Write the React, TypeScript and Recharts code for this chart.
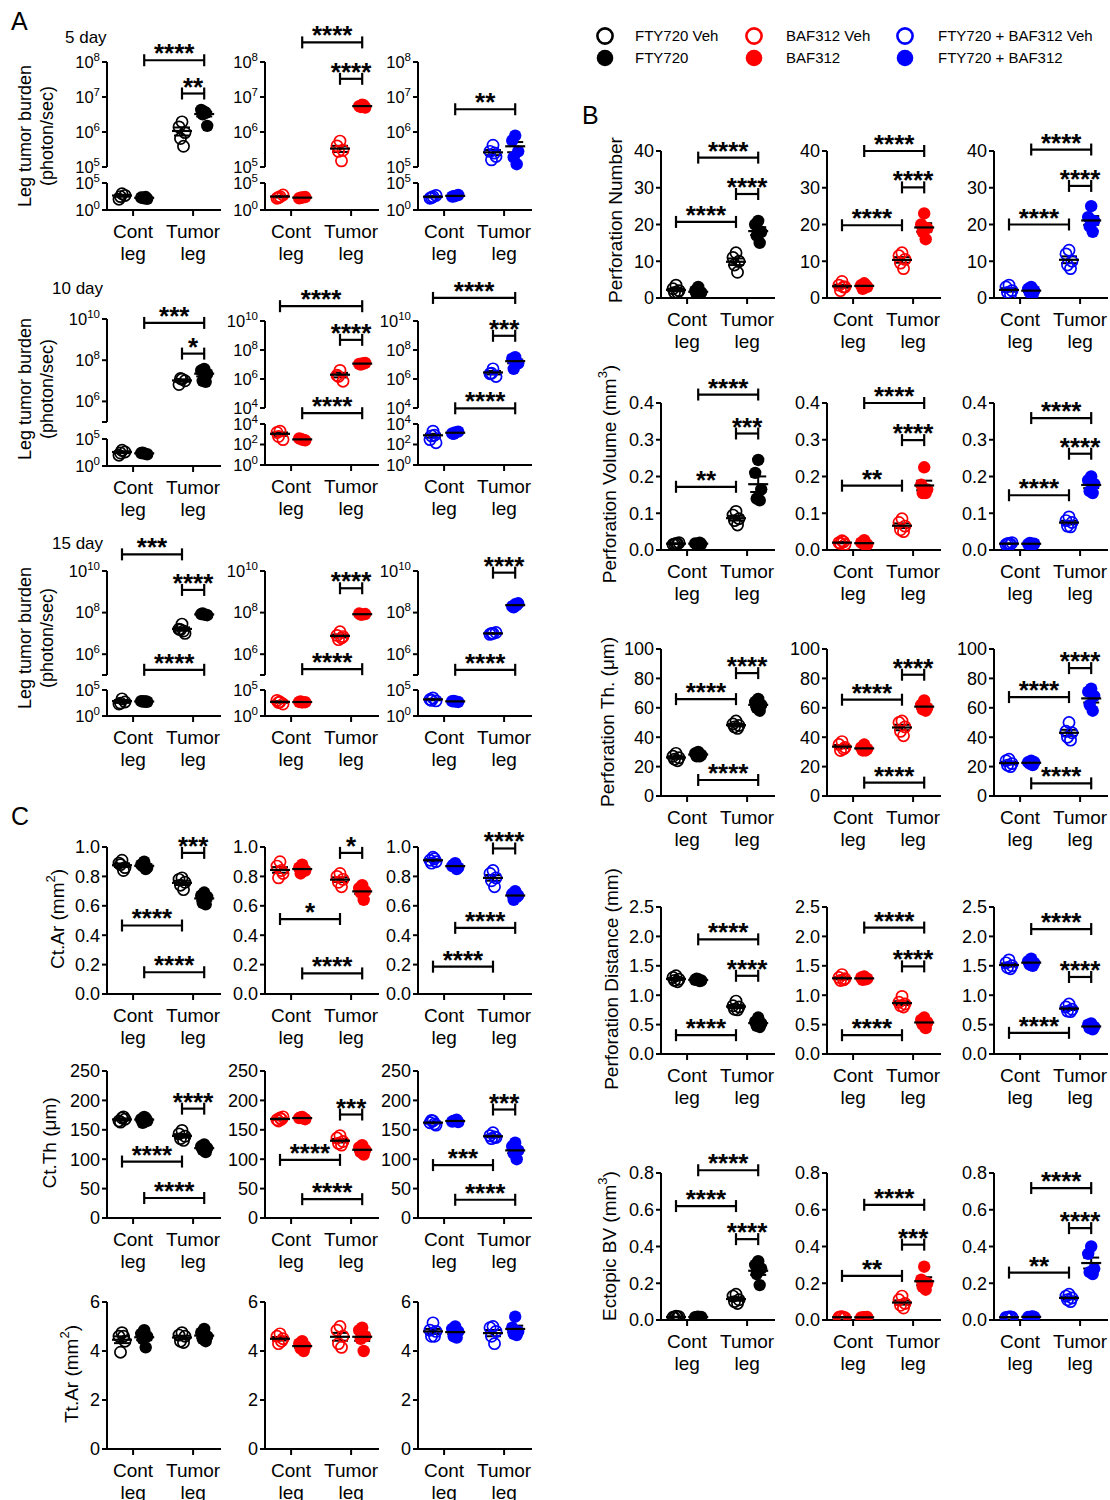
import React from 'react';
import { ScatterChart, Scatter, XAxis, YAxis, ReferenceLine, ErrorBar } from 'recharts';

// [from group, to group, level, stars]; groups: 0 Cont Veh, 1 Cont drug, 2 Tumor Veh, 3 Tumor drug
type Sig = [number, number, number, string];

const FONT = '"Liberation Sans", Arial, Helvetica, sans-serif';
const COLORS = ['#000000', '#ff0000', '#0000ff'];
const LEGS = ['Cont leg', 'Tumor leg'];
const LEGEND_ROWS = [
  ['FTY720 Veh', 'BAF312 Veh', 'FTY720 + BAF312 Veh'],
  ['FTY720', 'BAF312', 'FTY720 + BAF312'],
];
const DAYS = ['5 day', '10 day', '15 day'];

// ---- A: leg tumor burden (photon/sec) ----
const A5_FTY = [[1000, 100, 500, 300], [150, 200, 120, 180, 250], [1.95e6, 1.4e6, 9.6e5, 6.5e5, 3.9e5], [3.8e6, 4.3e6, 1.5e6, 3.2e6, 3.5e6]];
const A5_BAF = [[300, 150, 600, 200], [200, 150, 250, 180], [5.5e5, 4e5, 3e5, 2.8e5, 1.5e5], [6e6, 5.5e6, 5e6, 5.2e6, 5.8e6]];
const A5_COMBO = [[300, 150, 500, 200], [400, 300, 600, 350], [4.2e5, 2.8e5, 2e5, 1.6e5, 2.5e5], [7.9e5, 5.7e5, 2.8e5, 1.9e5, 1.2e5]];
const A10_FTY = [[800, 100, 400, 250], [200, 250, 150, 300], [1.2e7, 6.6e6, 1e7, 1.3e7], [3.8e7, 3.2e7, 2.2e7, 1e7, 9e6]];
const A10_BAF = [[2e3, 1.5e3, 300, 600], [300, 400, 250, 350, 280], [3.9e6, 1.8e6, 7e5, 1.5e6], [1.2e7, 1.1e7, 1.3e7, 1e7, 1.15e7]];
const A10_COMBO = [[2e3, 300, 150, 700, 800], [1.5e3, 1.2e3, 1.8e3, 1.1e3], [5e6, 2.3e6, 1.5e6, 2.5e6], [3.2e7, 2.5e7, 1.2e7, 5e6, 1.1e7]];
const A15_FTY = [[2e3, 200, 500, 300], [600, 700, 550, 650, 600], [2.8e7, 1.6e7, 1e7, 1.5e7, 1.3e7], [8e7, 8.5e7, 7.5e7, 9e7, 8e7]];
const A15_BAF = [[500, 1e3, 200, 400], [400, 500, 450, 600], [1.2e7, 8e6, 7e6, 5e6, 6e6], [8e7, 9e7, 8.5e7, 8e7]];
const A15_COMBO = [[3e3, 1.5e3, 800, 1e3], [600, 700, 500, 800], [1e7, 9e6, 1.1e7, 1e7], [2.5e8, 2e8, 2.8e8, 1.8e8, 2.3e8]];
// levels are log10 on the upper axis segment
const A5_FTY_SIG: Sig[] = [[1, 3, 8.05, '****'], [2, 3, 7.1, '**']];
const A5_BAF_SIG: Sig[] = [[1, 3, 8.56, '****'], [2, 3, 7.52, '****']];
const A5_COMBO_SIG: Sig[] = [[1, 3, 6.65, '**']];
const A10_FTY_SIG: Sig[] = [[1, 3, 9.81, '***'], [2, 3, 8.32, '*']];
const A10_BAF_SIG: Sig[] = [[0, 3, 11.02, '****'], [2, 3, 8.7, '****'], [1, 3, 3.64, '****']];
const A10_COMBO_SIG: Sig[] = [[0, 3, 11.59, '****'], [2, 3, 8.98, '***'], [1, 3, 3.98, '****']];
const A15_FTY_SIG: Sig[] = [[0, 2, 10.8, '***'], [2, 3, 9.09, '****'], [1, 3, 5.25, '****']];
const A15_BAF_SIG: Sig[] = [[2, 3, 9.17, '****'], [1, 3, 5.28, '****']];
const A15_COMBO_SIG: Sig[] = [[2, 3, 9.92, '****'], [1, 3, 5.25, '****']];

// ---- B ----
const B_NUM_FTY = [[3.5, 2.5, 2.0, 1.5, 1.5], [3, 2, 1.5, 1, 1], [12.3, 11, 10, 9, 7], [21, 20, 18, 17, 15]];
const B_NUM_BAF = [[4.5, 3.5, 3, 2, 3], [4, 3.5, 3, 2.5, 3.5], [12.3, 11.5, 10.5, 9.5, 8], [23, 20, 19, 18, 16]];
const B_NUM_COMBO = [[3.5, 3, 2, 1.5, 1], [3, 2.5, 2, 1.5, 1], [13, 12, 10, 9, 8], [25, 22, 21, 19.5, 18]];
const B_VOL_FTY = [[0.018, 0.015, 0.02, 0.016, 0.017], [0.017, 0.018, 0.016, 0.015, 0.02], [0.105, 0.095, 0.085, 0.08, 0.068], [0.245, 0.21, 0.165, 0.14, 0.135]];
const B_VOL_BAF = [[0.025, 0.02, 0.015, 0.018, 0.022], [0.027, 0.02, 0.015, 0.018, 0.013], [0.085, 0.075, 0.065, 0.055, 0.05], [0.225, 0.178, 0.165, 0.155, 0.155]];
const B_VOL_COMBO = [[0.018, 0.015, 0.02, 0.017, 0.016], [0.018, 0.016, 0.017, 0.019, 0.015], [0.09, 0.08, 0.075, 0.065, 0.063], [0.2, 0.19, 0.18, 0.16, 0.155]];
const B_TH_FTY = [[29, 27, 26, 25, 24], [30, 29, 28, 27, 27], [51, 49, 48, 47, 46], [66, 64, 62, 60, 58]];
const B_TH_BAF = [[37, 35, 33, 31, 32], [35, 33, 32, 31, 31], [51, 50, 47, 44, 41], [65, 62, 60, 59, 58]];
const B_TH_COMBO = [[25, 24, 22, 21, 20], [24, 23, 23, 22, 21], [50, 44, 43, 40, 38], [73, 71, 68, 62, 58]];
const B_DIST_FTY = [[1.33, 1.3, 1.27, 1.25, 1.23], [1.27, 1.26, 1.25, 1.28, 1.24], [0.9, 0.82, 0.8, 0.76, 0.75], [0.62, 0.55, 0.52, 0.48, 0.46]];
const B_DIST_BAF = [[1.35, 1.3, 1.28, 1.25, 1.26], [1.32, 1.3, 1.28, 1.26, 1.27], [0.98, 0.88, 0.85, 0.82, 0.8], [0.62, 0.58, 0.54, 0.5, 0.44]];
const B_DIST_COMBO = [[1.6, 1.55, 1.5, 1.47, 1.45], [1.62, 1.58, 1.55, 1.52, 1.5], [0.85, 0.8, 0.76, 0.73, 0.72], [0.52, 0.5, 0.46, 0.44, 0.42]];
const B_BV_FTY = [[0.02, 0.015, 0.018, 0.012, 0.016], [0.018, 0.015, 0.017, 0.016, 0.014], [0.14, 0.13, 0.11, 0.1, 0.09], [0.32, 0.3, 0.28, 0.25, 0.19]];
const B_BV_BAF = [[0.018, 0.015, 0.012, 0.016, 0.014], [0.015, 0.014, 0.016, 0.013, 0.015], [0.13, 0.11, 0.09, 0.08, 0.065], [0.29, 0.22, 0.2, 0.18, 0.165]];
const B_BV_COMBO = [[0.016, 0.014, 0.015, 0.013, 0.017], [0.018, 0.016, 0.017, 0.015, 0.019], [0.14, 0.13, 0.12, 0.11, 0.1], [0.4, 0.36, 0.28, 0.26, 0.25]];
const B_NUM_FTY_SIG: Sig[] = [[1, 3, 38.2, '****'], [2, 3, 28.3, '****'], [0, 2, 20.7, '****']];
const B_NUM_BAF_SIG: Sig[] = [[1, 3, 40, '****'], [2, 3, 30.1, '****'], [0, 2, 19.8, '****']];
const B_NUM_COMBO_SIG: Sig[] = [[1, 3, 40.4, '****'], [2, 3, 30.5, '****'], [0, 2, 20, '****']];
const B_VOL_FTY_SIG: Sig[] = [[1, 3, 0.423, '****'], [2, 3, 0.317, '***'], [0, 2, 0.172, '**']];
const B_VOL_BAF_SIG: Sig[] = [[1, 3, 0.4, '****'], [2, 3, 0.299, '****'], [0, 2, 0.175, '**']];
const B_VOL_COMBO_SIG: Sig[] = [[1, 3, 0.359, '****'], [2, 3, 0.262, '****'], [0, 2, 0.149, '****']];
const B_TH_FTY_SIG: Sig[] = [[2, 3, 83.6, '****'], [0, 2, 65.9, '****'], [1, 3, 10.9, '****']];
const B_TH_BAF_SIG: Sig[] = [[2, 3, 82.5, '****'], [0, 2, 65.5, '****'], [1, 3, 9.1, '****']];
const B_TH_COMBO_SIG: Sig[] = [[2, 3, 87, '****'], [0, 2, 67.3, '****'], [1, 3, 8.6, '****']];
const B_DIST_FTY_SIG: Sig[] = [[1, 3, 1.95, '****'], [2, 3, 1.33, '****'], [0, 2, 0.32, '****']];
const B_DIST_BAF_SIG: Sig[] = [[1, 3, 2.15, '****'], [2, 3, 1.49, '****'], [0, 2, 0.32, '****']];
const B_DIST_COMBO_SIG: Sig[] = [[1, 3, 2.125, '****'], [2, 3, 1.31, '****'], [0, 2, 0.36, '****']];
const B_BV_FTY_SIG: Sig[] = [[1, 3, 0.815, '****'], [0, 2, 0.62, '****'], [2, 3, 0.44, '****']];
const B_BV_BAF_SIG: Sig[] = [[1, 3, 0.627, '****'], [2, 3, 0.41, '***'], [0, 2, 0.24, '**']];
const B_BV_COMBO_SIG: Sig[] = [[1, 3, 0.718, '****'], [2, 3, 0.5, '****'], [0, 2, 0.258, '**']];

// ---- C ----
const C_AR_FTY = [[0.91, 0.89, 0.86, 0.88, 0.84], [0.9, 0.88, 0.86, 0.87, 0.85], [0.79, 0.78, 0.76, 0.74, 0.71], [0.69, 0.67, 0.66, 0.62, 0.61]];
const C_AR_BAF = [[0.9, 0.87, 0.82, 0.79, 0.84], [0.88, 0.86, 0.84, 0.82, 0.85], [0.82, 0.8, 0.78, 0.76, 0.73], [0.74, 0.72, 0.7, 0.69, 0.64]];
const C_AR_COMBO = [[0.93, 0.91, 0.9, 0.89, 0.92], [0.89, 0.87, 0.86, 0.88, 0.85], [0.84, 0.82, 0.79, 0.77, 0.73], [0.7, 0.68, 0.67, 0.64, 0.66]];
const C_TH_FTY = [[170, 165, 168, 163, 172], [172, 168, 165, 162, 170], [149, 143, 139, 135, 132], [125, 122, 119, 116, 112]];
const C_TH_BAF = [[170, 167, 172, 165, 168], [172, 170, 168, 171, 169], [140, 136, 130, 127, 124], [124, 120, 116, 112, 108]];
const C_TH_COMBO = [[165, 162, 158, 166, 160], [166, 164, 163, 165, 167], [145, 140, 137, 135, 138], [128, 122, 115, 110, 100]];
const C_TT_FTY = [[4.75, 4.6, 4.4, 3.95, 4.6], [4.85, 4.7, 4.6, 4.5, 4.15], [4.75, 4.65, 4.6, 4.4, 4.35], [4.9, 4.75, 4.6, 4.5, 4.4]];
const C_TT_BAF = [[4.7, 4.6, 4.5, 4.3, 4.4], [4.4, 4.3, 4.2, 4.1, 4.0], [5.0, 4.85, 4.6, 4.3, 4.15], [4.95, 4.85, 4.6, 4.5, 4.0]];
const C_TT_COMBO = [[5.15, 4.85, 4.8, 4.6, 4.6], [5.0, 4.9, 4.8, 4.6, 4.55], [5.0, 4.95, 4.8, 4.6, 4.3], [5.4, 4.95, 4.8, 4.7, 4.65]];
const C_AR_FTY_SIG: Sig[] = [[2, 3, 0.96, '***'], [0, 2, 0.466, '****'], [1, 3, 0.148, '****']];
const C_AR_BAF_SIG: Sig[] = [[2, 3, 0.96, '*'], [0, 2, 0.51, '*'], [1, 3, 0.14, '****']];
const C_AR_COMBO_SIG: Sig[] = [[2, 3, 0.99, '****'], [1, 3, 0.45, '****'], [0, 2, 0.186, '****']];
const C_TH_FTY_SIG: Sig[] = [[2, 3, 186, '****'], [0, 2, 96, '****'], [1, 3, 34, '****']];
const C_TH_BAF_SIG: Sig[] = [[2, 3, 176, '***'], [0, 2, 98.8, '****'], [1, 3, 32, '****']];
const C_TH_COMBO_SIG: Sig[] = [[2, 3, 184.5, '***'], [0, 2, 90, '***'], [1, 3, 31, '****']];

// ---- layout ----
const PLOT_W = 114;
const Y_W = 70;
const TOP_PAD = 60;
const X_H = 62;
const RIGHT_PAD = 24;
const X_DOMAIN: [number, number] = [0.13, 3.93];
const GROUP_X = [0.63, 1.37, 2.63, 3.37];
const SPREAD = [0, -0.1, 0.1, -0.05, 0.05];
const COLS_AC = [107, 265, 418];
const COLS_B = [661, 827, 994];
const CAP = 6;
const AXIS = { stroke: '#000', strokeWidth: 2 };

type LogCfg = { lo: [number, number]; hi: [number, number]; loPx: number; gapPx: number; hiPx: number; loTicks: number[]; hiTicks: number[]; blank: number[] };
type LinCfg = { domain: [number, number]; ticks: number[]; digits: number };

const LOG_5: LogCfg = { lo: [0, 5], hi: [5, 8], loPx: 27, gapPx: 16, hiPx: 105, loTicks: [0, 5], hiTicks: [5, 6, 7, 8], blank: [] };
const LOG_10A: LogCfg = { lo: [0, 5], hi: [5, 10], loPx: 27, gapPx: 17, hiPx: 103, loTicks: [0, 5], hiTicks: [5, 6, 8, 10], blank: [5] };
const LOG_10B: LogCfg = { lo: [0, 4], hi: [4, 10], loPx: 41, gapPx: 16, hiPx: 87, loTicks: [0, 2, 4], hiTicks: [4, 6, 8, 10], blank: [] };
const LOG_15: LogCfg = { lo: [0, 5], hi: [5, 10], loPx: 26, gapPx: 15, hiPx: 104, loTicks: [0, 5], hiTicks: [5, 6, 8, 10], blank: [5] };

interface PanelProps { left: number; top: number; h: number; groups: number[][]; color: string; sigs: Sig[]; lin?: LinCfg; log?: LogCfg }

const mean = (a: number[]) => a.reduce((s, v) => s + v, 0) / a.length;
const sem = (a: number[]) => {
  const m = mean(a);
  return Math.sqrt(a.reduce((s, v) => s + (v - m) ** 2, 0) / (a.length - 1)) / Math.sqrt(a.length);
};

const meanShape = (p: any) => (
  <line x1={p.cx - 10} x2={p.cx + 10} y1={p.cy} y2={p.cy} stroke="#000" strokeWidth={2.2} />
);

const renderXTick = (p: any) => {
  const [w1, w2] = (p.payload.value < 2 ? LEGS[0] : LEGS[1]).split(' ');
  return (
    <text x={p.x} y={p.y} textAnchor="middle" fontSize={19} fill="#000">
      <tspan x={p.x} dy={20}>{w1}</tspan>
      <tspan x={p.x} dy={22}>{w2}</tspan>
    </text>
  );
};

function Panel({ left, top, h, groups, color, sigs, lin, log }: PanelProps) {
  const loPos = (d: number) => (log ? ((d - log.lo[0]) / (log.lo[1] - log.lo[0])) * log.loPx : d);
  const hiPos = (d: number) => (log ? log.loPx + log.gapPx + ((d - log.hi[0]) / (log.hi[1] - log.hi[0])) * log.hiPx : d);
  const toY = (v: number) => {
    if (!log) return v;
    const d = Math.log10(v);
    return d < log.hi[0] ? loPos(d) : hiPos(d);
  };
  const domain: [number, number] = log ? [0, log.loPx + log.gapPx + log.hiPx] : lin!.domain;
  const unit = (domain[1] - domain[0]) / h;
  const ticks = log
    ? [
        ...log.loTicks.map((d) => ({ t: loPos(d), label: String(d) })),
        ...log.hiTicks.map((d) => ({ t: hiPos(d), label: log.blank.includes(d) ? '' : String(d) })),
      ]
    : lin!.ticks.map((v) => ({ t: v, label: v.toFixed(lin!.digits) }));

  const renderYTick = (p: any) => {
    const k = ticks.find((q) => Math.abs(q.t - p.payload.value) < 1e-6);
    if (!k || !k.label) return <g />;
    if (log) {
      return (
        <text x={p.x} y={p.y} dy="0.35em" textAnchor="end" fontSize={16.5} fill="#000">
          10<tspan dy={-7} fontSize={11.5}>{k.label}</tspan>
        </text>
      );
    }
    return (
      <text x={p.x} y={p.y} dy="0.35em" textAnchor="end" fontSize={18} fill="#000">{k.label}</text>
    );
  };

  const pts = groups.map((g, gi) => g.map((v, i) => ({ x: GROUP_X[gi] + SPREAD[i % SPREAD.length], y: toY(v) })));
  const means = groups.map((g, gi) => {
    const m = mean(g);
    const s = sem(g);
    const tm = toY(m);
    const lo = m - s > 0 ? toY(m - s) : domain[0];
    return { x: GROUP_X[gi], y: tm, err: [tm - lo, toY(m + s) - tm] };
  });

  const openShape = (p: any) => <circle cx={p.cx} cy={p.cy} r={5.6} fill="none" stroke={color} strokeWidth={1.7} />;
  const fillShape = (p: any) => <circle cx={p.cx} cy={p.cy} r={6.2} fill={color} />;

  return (
    <div style={{ position: 'absolute', left: left - Y_W, top: top - TOP_PAD }}>
      <ScatterChart
        width={Y_W + PLOT_W + RIGHT_PAD}
        height={TOP_PAD + h + X_H}
        margin={{ top: TOP_PAD, right: RIGHT_PAD, bottom: 0, left: 0 }}
      >
        <XAxis type="number" dataKey="x" domain={X_DOMAIN} ticks={[1, 3]} allowDataOverflow height={X_H}
          axisLine={AXIS} tickLine={AXIS} tickSize={6} tickMargin={2} tick={renderXTick} interval={0} />
        <YAxis type="number" dataKey="y" domain={domain} ticks={ticks.map((k) => k.t)} allowDataOverflow width={Y_W}
          axisLine={log ? false : AXIS} tickLine={AXIS} tickSize={5} tickMargin={2} tick={renderYTick} interval={0} />
        {log && (
          <ReferenceLine segment={[{ x: X_DOMAIN[0], y: 0 }, { x: X_DOMAIN[0], y: log.loPx }]} stroke="#000" strokeWidth={2} ifOverflow="visible" />
        )}
        {log && (
          <ReferenceLine segment={[{ x: X_DOMAIN[0], y: log.loPx + log.gapPx }, { x: X_DOMAIN[0], y: domain[1] }]} stroke="#000" strokeWidth={2} ifOverflow="visible" />
        )}
        {pts.map((d, gi) => (
          <Scatter key={gi} data={d} shape={gi % 2 === 0 ? openShape : fillShape} isAnimationActive={false} />
        ))}
        <Scatter data={means} shape={meanShape} isAnimationActive={false}>
          <ErrorBar dataKey="err" direction="y" width={8} stroke="#000" strokeWidth={2} isAnimationActive={false} />
        </Scatter>
        {sigs.map(([a, b, lvl, stars], si) => {
          const y = log ? hiPos(lvl) : lvl;
          const x1 = GROUP_X[a];
          const x2 = GROUP_X[b];
          const c = CAP * unit;
          return (
            <React.Fragment key={si}>
              <ReferenceLine segment={[{ x: x1, y }, { x: x2, y }]} stroke="#000" strokeWidth={2.2} ifOverflow="visible"
                label={{ value: stars, position: 'top', offset: -2, fill: '#000', fontSize: 26, fontWeight: 700 }} />
              <ReferenceLine segment={[{ x: x1, y: y - c }, { x: x1, y: y + c }]} stroke="#000" strokeWidth={2.2} ifOverflow="visible" />
              <ReferenceLine segment={[{ x: x2, y: y - c }, { x: x2, y: y + c }]} stroke="#000" strokeWidth={2.2} ifOverflow="visible" />
            </React.Fragment>
          );
        })}
      </ScatterChart>
    </div>
  );
}

const A_ROWS = [
  { tops: [62, 62, 62], logs: [LOG_5, LOG_5, LOG_5], data: [A5_FTY, A5_BAF, A5_COMBO], sigs: [A5_FTY_SIG, A5_BAF_SIG, A5_COMBO_SIG] },
  { tops: [319, 321, 321], logs: [LOG_10A, LOG_10B, LOG_10B], data: [A10_FTY, A10_BAF, A10_COMBO], sigs: [A10_FTY_SIG, A10_BAF_SIG, A10_COMBO_SIG] },
  { tops: [571, 571, 571], logs: [LOG_15, LOG_15, LOG_15], data: [A15_FTY, A15_BAF, A15_COMBO], sigs: [A15_FTY_SIG, A15_BAF_SIG, A15_COMBO_SIG] },
];

const B_ROWS = [
  { top: 151, lin: { domain: [0, 40], ticks: [0, 10, 20, 30, 40], digits: 0 } as LinCfg, data: [B_NUM_FTY, B_NUM_BAF, B_NUM_COMBO], sigs: [B_NUM_FTY_SIG, B_NUM_BAF_SIG, B_NUM_COMBO_SIG] },
  { top: 403, lin: { domain: [0, 0.4], ticks: [0, 0.1, 0.2, 0.3, 0.4], digits: 1 } as LinCfg, data: [B_VOL_FTY, B_VOL_BAF, B_VOL_COMBO], sigs: [B_VOL_FTY_SIG, B_VOL_BAF_SIG, B_VOL_COMBO_SIG] },
  { top: 649, lin: { domain: [0, 100], ticks: [0, 20, 40, 60, 80, 100], digits: 0 } as LinCfg, data: [B_TH_FTY, B_TH_BAF, B_TH_COMBO], sigs: [B_TH_FTY_SIG, B_TH_BAF_SIG, B_TH_COMBO_SIG] },
  { top: 907, lin: { domain: [0, 2.5], ticks: [0, 0.5, 1, 1.5, 2, 2.5], digits: 1 } as LinCfg, data: [B_DIST_FTY, B_DIST_BAF, B_DIST_COMBO], sigs: [B_DIST_FTY_SIG, B_DIST_BAF_SIG, B_DIST_COMBO_SIG] },
  { top: 1173, lin: { domain: [0, 0.8], ticks: [0, 0.2, 0.4, 0.6, 0.8], digits: 1 } as LinCfg, data: [B_BV_FTY, B_BV_BAF, B_BV_COMBO], sigs: [B_BV_FTY_SIG, B_BV_BAF_SIG, B_BV_COMBO_SIG] },
];

const C_ROWS = [
  { top: 847, lin: { domain: [0, 1], ticks: [0, 0.2, 0.4, 0.6, 0.8, 1], digits: 1 } as LinCfg, data: [C_AR_FTY, C_AR_BAF, C_AR_COMBO], sigs: [C_AR_FTY_SIG, C_AR_BAF_SIG, C_AR_COMBO_SIG] },
  { top: 1071, lin: { domain: [0, 250], ticks: [0, 50, 100, 150, 200, 250], digits: 0 } as LinCfg, data: [C_TH_FTY, C_TH_BAF, C_TH_COMBO], sigs: [C_TH_FTY_SIG, C_TH_BAF_SIG, C_TH_COMBO_SIG] },
  { top: 1302, lin: { domain: [0, 6], ticks: [0, 2, 4, 6], digits: 0 } as LinCfg, data: [C_TT_FTY, C_TT_BAF, C_TT_COMBO], sigs: [[], [], []] as Sig[][] },
];

const VText = ({ x, y, size = 19, children }: { x: number; y: number; size?: number; children: React.ReactNode }) => (
  <text transform={`translate(${x},${y}) rotate(-90)`} textAnchor="middle" dominantBaseline="central" fontSize={size} fill="#000">
    {children}
  </text>
);

const Sup = ({ c }: { c: string }) => (
  <>
    <tspan dy={-7} fontSize={13}>{c}</tspan>
    <tspan dy={7}>)</tspan>
  </>
);

function Overlay() {
  const legendX = [605, 754, 905];
  const legendTextX = [635, 786, 938];
  return (
    <svg width={1110} height={1500} style={{ position: 'absolute', left: 0, top: 0 }}>
      <text x={11} y={30} fontSize={25} fill="#000">A</text>
      <text x={582} y={124} fontSize={25} fill="#000">B</text>
      <text x={11} y={825} fontSize={25} fill="#000">C</text>
      <text x={65} y={43} fontSize={17} fill="#000">{DAYS[0]}</text>
      <text x={52} y={294} fontSize={17} fill="#000">{DAYS[1]}</text>
      <text x={52} y={549} fontSize={17} fill="#000">{DAYS[2]}</text>
      {[136, 389, 638].map((cy) => (
        <g key={cy}>
          <VText x={25} y={cy} size={18}>Leg tumor burden</VText>
          <VText x={47} y={cy} size={18}>(photon/sec)</VText>
        </g>
      ))}
      <VText x={615} y={220}>Perforation Number</VText>
      <VText x={609} y={474}>Perforation Volume (mm<Sup c="3" /></VText>
      <VText x={607} y={722}>Perforation Th. (μm)</VText>
      <VText x={611} y={979}>Perforation Distance (mm)</VText>
      <VText x={609} y={1246}>Ectopic BV (mm<Sup c="3" /></VText>
      <VText x={57} y={919}>Ct.Ar (mm<Sup c="2" /></VText>
      <VText x={49} y={1143}>Ct.Th (μm)</VText>
      <VText x={71} y={1374}>Tt.Ar (mm<Sup c="2" /></VText>
      {COLORS.map((c, i) => (
        <g key={c}>
          <circle cx={legendX[i]} cy={36} r={7.6} fill="none" stroke={c} strokeWidth={2.6} />
          <circle cx={legendX[i]} cy={58} r={8.3} fill={c} />
          <text x={legendTextX[i]} y={41} fontSize={15} fill="#000">{LEGEND_ROWS[0][i]}</text>
          <text x={legendTextX[i]} y={63} fontSize={15} fill="#000">{LEGEND_ROWS[1][i]}</text>
        </g>
      ))}
    </svg>
  );
}

export default function App() {
  return (
    <div style={{ position: 'absolute', left: 0, top: 0, width: 1110, height: 1500, background: '#fff', fontFamily: FONT }}>
      <Overlay />
      {A_ROWS.map((row, ri) =>
        COLS_AC.map((left, ci) => {
          const lg = row.logs[ci];
          return (
            <Panel key={`a${ri}${ci}`} left={left} top={row.tops[ci]} h={lg.loPx + lg.gapPx + lg.hiPx}
              groups={row.data[ci]} color={COLORS[ci]} sigs={row.sigs[ci]} log={lg} />
          );
        })
      )}
      {B_ROWS.map((row, ri) =>
        COLS_B.map((left, ci) => (
          <Panel key={`b${ri}${ci}`} left={left} top={row.top} h={147}
            groups={row.data[ci]} color={COLORS[ci]} sigs={row.sigs[ci]} lin={row.lin} />
        ))
      )}
      {C_ROWS.map((row, ri) =>
        COLS_AC.map((left, ci) => (
          <Panel key={`c${ri}${ci}`} left={left} top={row.top} h={147}
            groups={row.data[ci]} color={COLORS[ci]} sigs={row.sigs[ci]} lin={row.lin} />
        ))
      )}
    </div>
  );
}
